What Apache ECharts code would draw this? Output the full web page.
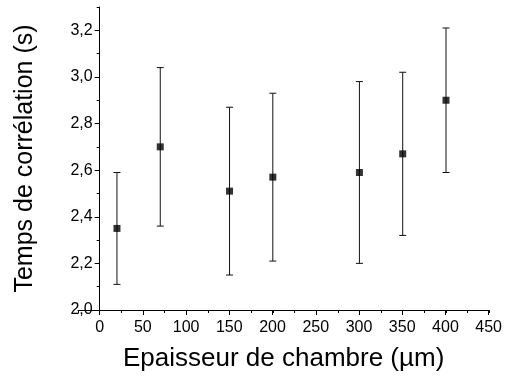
<!DOCTYPE html>
<html><head><meta charset="utf-8">
<script src="https://cdn.jsdelivr.net/npm/echarts@6/dist/echarts.min.js"></script>
<style>html,body{margin:0;padding:0;background:#fff}#c{width:505px;height:378px}</style>
</head><body><div id="c"></div>
<script>
const thickness = [20, 70, 150, 200, 300, 350, 400];
const tau = [2.35, 2.70, 2.51, 2.57, 2.59, 2.67, 2.90];
const tauLow = [2.11, 2.36, 2.15, 2.21, 2.20, 2.32, 2.59];
const tauHigh = [2.59, 3.04, 2.87, 2.93, 2.98, 3.02, 3.21];
const xTicks = [0, 50, 100, 150, 200, 250, 300, 350, 400, 450];
const yTicks = [2.0, 2.2, 2.4, 2.6, 2.8, 3.0, 3.2];

const xName = 'Epaisseur de chambre (µm)';
const yName = 'Temps de corrélation (s)';

// axis extents
const xMin = -25, xMax = 450, yMin = 2.0, yMax = 3.3;
const L = 78, R = 15.7, T = 7, B = 68;
const W = 505 - L - R, H = 378 - T - B;
const xMajMin = xTicks[0], yMajMax = yTicks[yTicks.length - 1];
const L2 = L + W * (xMajMin - xMin) / (xMax - xMin);
const T2 = T + H * (yMax - yMajMax) / (yMax - yMin);

const font = 'Liberation Sans, Arial, sans-serif';
const chart = echarts.init(document.getElementById('c'));
chart.setOption({
  animation: false,
  backgroundColor: '#fff',
  grid: [
    {left: L, right: R, top: T, bottom: B},
    {left: L2, right: R, top: T2, bottom: B}
  ],
  xAxis: [
    {type: 'value', gridIndex: 0, min: xMin, max: xMax, interval: 25,
     axisLine: {show: true, lineStyle: {color: '#000', width: 1}},
     axisTick: {show: true, inside: false, length: 3, lineStyle: {color: '#000'}},
     axisLabel: {show: false}, splitLine: {show: false},
     name: xName, nameLocation: 'middle', nameGap: 36,
     nameTextStyle: {fontFamily: font, fontSize: 26, color: '#000'}},
    {type: 'value', gridIndex: 1, min: xTicks[0], max: xTicks[xTicks.length-1], interval: xTicks[1]-xTicks[0],
     axisLine: {show: false},
     axisTick: {show: true, inside: false, length: 5, lineStyle: {color: '#000'}},
     axisLabel: {show: true, margin: 10, fontFamily: font, fontSize: 16, color: '#000'},
     splitLine: {show: false}}
  ],
  yAxis: [
    {type: 'value', gridIndex: 0, min: yMin, max: yMax, interval: 0.1,
     axisLine: {show: true, lineStyle: {color: '#000', width: 1}},
     axisTick: {show: true, inside: false, length: 3, lineStyle: {color: '#000'}},
     axisLabel: {show: false}, splitLine: {show: false},
     name: yName, nameLocation: 'middle', nameGap: 40, nameRotate: 90,
     nameTextStyle: {fontFamily: font, fontSize: 25, color: '#000'}},
    {type: 'value', gridIndex: 1, min: yTicks[0], max: yTicks[yTicks.length-1], interval: 0.2,
     axisLine: {show: false},
     axisTick: {show: true, inside: false, length: 5, lineStyle: {color: '#000'}},
     axisLabel: {show: true, margin: 7, fontFamily: font, fontSize: 16, color: '#000',
       formatter: v => v.toFixed(1).replace('.', ',')},
     splitLine: {show: false}}
  ],
  series: [
    {type: 'custom', xAxisIndex: 0, yAxisIndex: 0,
     data: thickness.map((x, i) => [x, tauLow[i], tauHigh[i]]),
     renderItem: function (params, api) {
       const lo = api.coord([api.value(0), api.value(1)]);
       const hi = api.coord([api.value(0), api.value(2)]);
       const hw = 3.5;
       const st = {stroke: '#111', lineWidth: 1};
       return {type: 'group', children: [
         {type: 'line', shape: {x1: lo[0], y1: lo[1], x2: hi[0], y2: hi[1]}, style: st},
         {type: 'line', shape: {x1: lo[0]-hw, y1: lo[1], x2: lo[0]+hw, y2: lo[1]}, style: st},
         {type: 'line', shape: {x1: hi[0]-hw, y1: hi[1], x2: hi[0]+hw, y2: hi[1]}, style: st}
       ]};
     }, z: 2},
    {type: 'scatter', xAxisIndex: 0, yAxisIndex: 0,
     data: thickness.map((x, i) => [x, tau[i]]),
     symbol: 'rect', symbolSize: 7, itemStyle: {color: '#000'}, z: 3}
  ]
});
</script></body></html>
